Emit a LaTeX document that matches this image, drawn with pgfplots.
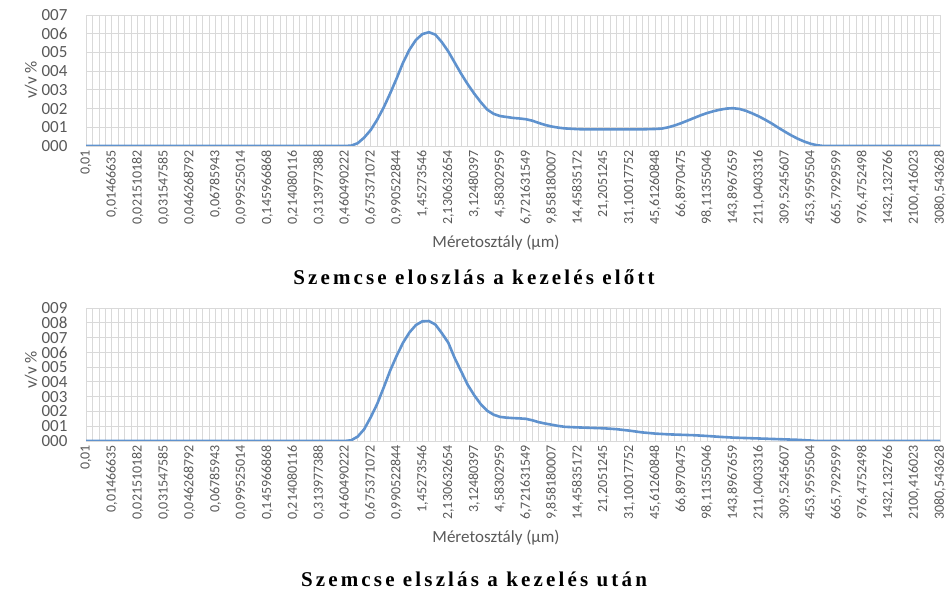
\documentclass[border=0pt]{standalone}
\usepackage{fontspec}
\setmainfont{Carlito}
\newfontfamily\capfont{Liberation Serif}[LetterSpace=15]
\usepackage{pgfplots}
\pgfplotsset{compat=1.18}
\definecolor{lineblue}{RGB}{95,146,206}
\definecolor{gridgray}{RGB}{217,217,217}
\definecolor{txtgray}{RGB}{89,89,89}
\pgfplotsset{
 myaxis/.style={
  scale only axis, width=854pt,
  xmin=0, xmax=132, ymin=0,
  xtick={0,4,...,132},
  xticklabels={{0,01},{0,01466635},{0,021510182},{0,031547585},{0,046268792},{0,06785943},{0,099525014},{0,145966868},{0,214080116},{0,313977388},{0,460490222},{0,675371072},{0,990522844},{1,45273546},{2,130632654},{3,12480397},{4,58302959},{6,721631549},{9,858180007},{14,45835172},{21,2051245},{31,10017752},{45,61260848},{66,8970475},{98,11355046},{143,8967659},{211,0403316},{309,5245607},{453,9595504},{665,7929599},{976,4752498},{1432,132766},{2100,416023},{3080,543628}},
  minor x tick num=3,
  grid=both,
  major grid style={gridgray, line width=0.8pt},
  minor grid style={gridgray, line width=0.8pt},
  major tick length=0pt, minor tick length=0pt,
  axis line style={gridgray, line width=0.8pt},
  xticklabel style={rotate=90, anchor=east, font=\fontsize{14}{14}\selectfont, text=txtgray, inner xsep=4pt, inner ysep=0.5pt},
  yticklabel style={font=\fontsize{17}{17}\selectfont, text=txtgray, xshift=-15pt},
  ytick distance=1,
 }
}
\begin{document}
\begin{tikzpicture}[x=1pt,y=1pt]
\useasboundingbox (0,0) rectangle (947,594);
% top chart
\begin{axis}[myaxis, at={(86pt,448pt)}, anchor=south west, height=131pt, ymax=7,
  ytick={0,1,...,7}, yticklabels={000,001,002,003,004,005,006,007}]
\addplot[lineblue, line width=2.6pt, line join=round] coordinates {
(0,0)(40,0)(41,0.02)(42,0.15)(43,0.45)(44,0.85)(45,1.4)(46,2.05)(47,2.8)(48,3.6)(49,4.45)(50,5.15)(51,5.67)(52,5.98)(53,6.08)(54,5.95)(55,5.55)(56,5.05)(57,4.45)(58,3.85)(59,3.3)(60,2.8)(61,2.35)(62,1.95)(63,1.72)(64,1.6)(65,1.55)(66,1.5)(67,1.47)(68,1.43)(69,1.35)(70,1.23)(71,1.12)(72,1.04)(73,0.98)(74,0.94)(75,0.92)(76,0.9)(77,0.89)(80,0.89)(84,0.89)(86,0.89)(87,0.9)(88,0.91)(89,0.93)(90,1.0)(91,1.1)(92,1.22)(93,1.36)(94,1.5)(95,1.64)(96,1.76)(97,1.86)(98,1.94)(99,2.0)(100,2.02)(101,1.98)(102,1.88)(103,1.74)(104,1.58)(105,1.4)(106,1.2)(107,0.98)(108,0.77)(109,0.57)(110,0.39)(111,0.24)(112,0.12)(113,0.04)(114,0)(132,0)
};
\end{axis}
% bottom chart
\begin{axis}[myaxis, at={(86pt,153pt)}, anchor=south west, height=133pt, ymax=9,
  ytick={0,1,...,9}, yticklabels={000,001,002,003,004,005,006,007,008,009}]
\addplot[lineblue, line width=2.6pt, line join=round] coordinates {
(0,0)(40,0)(41,0.05)(42,0.3)(43,0.8)(44,1.6)(45,2.5)(46,3.6)(47,4.75)(48,5.75)(49,6.65)(50,7.35)(51,7.85)(52,8.1)(53,8.12)(54,7.88)(55,7.3)(56,6.65)(57,5.6)(58,4.7)(59,3.8)(60,3.1)(61,2.5)(62,2.05)(63,1.78)(64,1.63)(65,1.58)(66,1.55)(67,1.53)(68,1.5)(69,1.4)(70,1.27)(71,1.18)(72,1.1)(73,1.02)(74,0.96)(76,0.92)(78,0.89)(80,0.86)(82,0.8)(84,0.7)(86,0.58)(88,0.5)(90,0.45)(92,0.42)(94,0.39)(96,0.34)(98,0.28)(100,0.23)(102,0.2)(104,0.17)(106,0.14)(108,0.11)(110,0.08)(112,0.03)(113,0)(132,0)
};
\end{axis}
% axis titles
\node[rotate=90, text=txtgray, font=\fontsize{17}{17}\selectfont] at (31,514) {v/v \%};
\node[rotate=90, text=txtgray, font=\fontsize{17}{17}\selectfont] at (31,224) {v/v \%};
\node[text=txtgray, font=\fontsize{17}{17}\selectfont] at (496,351) {Méretosztály (µm)};
\node[text=txtgray, font=\fontsize{17}{17}\selectfont] at (496,56) {Méretosztály (µm)};
% captions
\node[font=\capfont\bfseries\fontsize{21}{21}\selectfont] at (474,317) {Szemcse eloszlás a kezelés előtt};
\node[font=\capfont\bfseries\fontsize{21}{21}\selectfont] at (474,15) {Szemcse elszlás a kezelés után};
\end{tikzpicture}
\end{document}
